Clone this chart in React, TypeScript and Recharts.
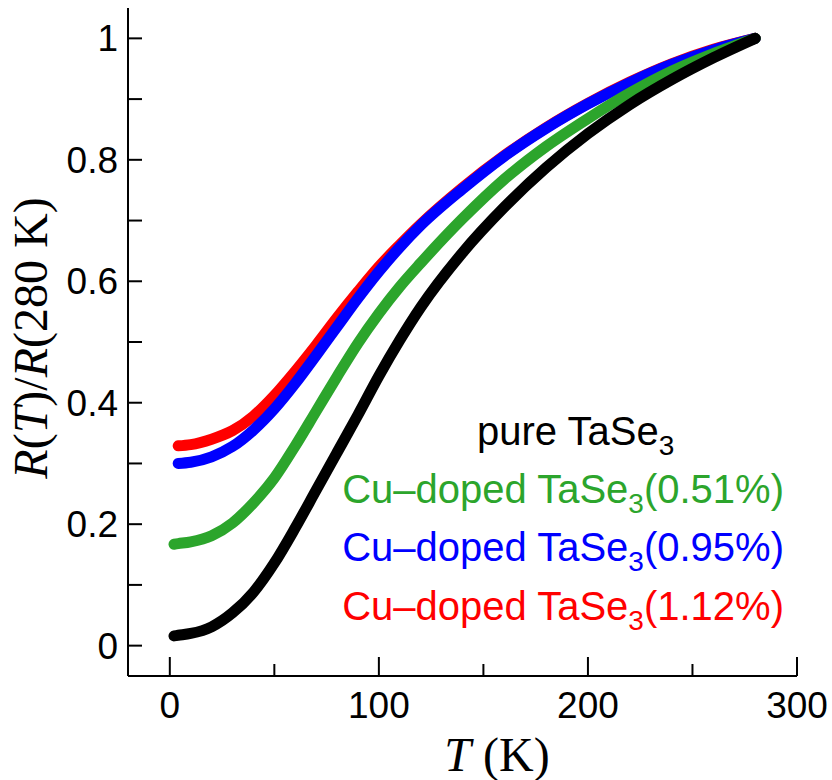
import { LineChart, Line, XAxis, YAxis } from 'recharts'

const temps = [2, 4, 10, 20, 30, 40, 50, 60, 70, 80, 90, 100, 110, 120, 140, 160, 180, 200, 220, 240, 260, 280]
const pure = [0.016, 0.017, 0.02, 0.031, 0.054, 0.088, 0.136, 0.194, 0.256, 0.318, 0.38, 0.444, 0.503, 0.557, 0.647, 0.722, 0.787, 0.843, 0.891, 0.932, 0.968, 1.0]
const cu051 = [0.167, 0.168, 0.171, 0.181, 0.202, 0.235, 0.276, 0.329, 0.386, 0.443, 0.498, 0.547, 0.591, 0.63, 0.703, 0.768, 0.822, 0.868, 0.91, 0.946, 0.975, 1.0]
const cu095 = [null, 0.3, 0.302, 0.311, 0.328, 0.355, 0.39, 0.432, 0.478, 0.525, 0.572, 0.616, 0.656, 0.692, 0.752, 0.806, 0.852, 0.892, 0.927, 0.957, 0.981, 1.0]
const cu112 = [null, 0.329, 0.331, 0.34, 0.354, 0.378, 0.412, 0.452, 0.495, 0.54, 0.583, 0.624, 0.66, 0.694, 0.754, 0.807, 0.853, 0.893, 0.928, 0.958, 0.982, 1.0]

const xTicks = [0, 50, 100, 150, 200, 250, 300]
const yTicks = [0, 0.1, 0.2, 0.3, 0.4, 0.5, 0.6, 0.7, 0.8, 0.9, 1]
const yLabels: Record<string, string> = { '0': '0', '0.2': '0.2', '0.4': '0.4', '0.6': '0.6', '0.8': '0.8', '1': '1' }

const seriesKeys = ['pure', 'cu051', 'cu095', 'cu112']
const seriesColors = ['#000000', '#2ca52c', '#0000ff', '#ff0000']
const seriesPre = ['pure TaSe', 'Cu\u2013doped TaSe', 'Cu\u2013doped TaSe', 'Cu\u2013doped TaSe']
const seriesPost = ['', '(0.51%)', '(0.95%)', '(1.12%)']

const data = temps.map((T, i) => ({
  T,
  pure: pure[i],
  cu051: cu051[i],
  cu095: cu095[i],
  cu112: cu112[i],
}))

const SANS = '"Liberation Sans", Arial, sans-serif'
const SERIF = '"Liberation Serif", "Times New Roman", serif'

function XTick(props: any) {
  const { x, y, payload, side } = props
  const major = payload.value % 100 === 0
  const len = major ? 19 : 12
  const dir = side === 'bottom' ? -1 : 1
  return (
    <g>
      <line x1={x} x2={x} y1={y} y2={y + dir * len} stroke="#000" strokeWidth={2} />
      {side === 'bottom' && major && (
        <text x={x} y={y + 42} textAnchor="middle" fontFamily={SANS} fontSize={37} fill="#000">
          {payload.value}
        </text>
      )}
    </g>
  )
}

function YTick(props: any) {
  const { x, y, payload, side } = props
  const dir = side === 'left' ? 1 : -1
  const lab = yLabels[String(Math.round(payload.value * 10) / 10)]
  return (
    <g>
      <line x1={x} x2={x + dir * 14} y1={y} y2={y} stroke="#000" strokeWidth={2} />
      {side === 'left' && lab && (
        <text x={x - 10} y={y + 13} textAnchor="end" fontFamily={SANS} fontSize={37} fill="#000">
          {lab}
        </text>
      )}
    </g>
  )
}

function Labels() {
  const baselines = [445, 503, 561, 620]
  return (
    <g>
      <text x={47} y={338} transform="rotate(-90 47 338)" textAnchor="middle" fontFamily={SERIF} fontSize={48} fill="#000">
        <tspan fontStyle="italic">R</tspan>(<tspan fontStyle="italic">T</tspan>)/<tspan fontStyle="italic">R</tspan>(280 K)
      </text>
      <text x={497} y={771} textAnchor="middle" fontFamily={SERIF} fontSize={48} fill="#000">
        <tspan fontStyle="italic">T</tspan> (K)
      </text>
      {seriesKeys.map((k, i) => (
        <text
          key={k}
          x={i === 0 ? 477 : 784}
          y={baselines[i]}
          textAnchor={i === 0 ? 'start' : 'end'}
          fontFamily={SANS}
          fontSize={40}
          fill={seriesColors[i]}
        >
          {seriesPre[i]}
          <tspan fontSize={28} dy={10}>3</tspan>
          <tspan dy={-10}>{seriesPost[i]}</tspan>
        </text>
      ))}
    </g>
  )
}

export default function App() {
  return (
    <div style={{ position: 'absolute', left: 0, top: 0, background: '#fff' }}>
      <LineChart width={832} height={780} data={data} margin={{ top: 8, right: 35, bottom: 0, left: 0 }}>
        <XAxis
          dataKey="T"
          type="number"
          domain={[-20, 300]}
          ticks={xTicks}
          interval={0}
          height={104}
          tickSize={0}
          tickMargin={0}
          axisLine={{ stroke: '#000', strokeWidth: 2 }}
          tick={(p: any) => <XTick {...p} side="bottom" />}
          allowDataOverflow
        />
        <XAxis
          xAxisId="top"
          orientation="top"
          dataKey="T"
          type="number"
          domain={[-20, 300]}
          ticks={xTicks}
          interval={0}
          height={0}
          tickSize={0}
          tickMargin={0}
          axisLine={{ stroke: '#000', strokeWidth: 2 }}
          tick={(p: any) => <XTick {...p} side="top" />}
          allowDataOverflow
        />
        <YAxis
          type="number"
          domain={[-0.05, 1.05]}
          ticks={yTicks}
          interval={0}
          width={128}
          tickSize={0}
          tickMargin={0}
          axisLine={{ stroke: '#000', strokeWidth: 2 }}
          tick={(p: any) => <YTick {...p} side="left" />}
          allowDataOverflow
        />
        <YAxis
          yAxisId="right"
          orientation="right"
          type="number"
          domain={[-0.05, 1.05]}
          ticks={yTicks}
          interval={0}
          width={0}
          tickSize={0}
          tickMargin={0}
          axisLine={{ stroke: '#000', strokeWidth: 2 }}
          tick={(p: any) => <YTick {...p} side="right" />}
          allowDataOverflow
        />
        {[3, 2, 1, 0].map((i) => (
          <Line
            key={seriesKeys[i]}
            dataKey={seriesKeys[i]}
            type="monotone"
            stroke={seriesColors[i]}
            strokeWidth={11}
            strokeLinecap="round"
            strokeLinejoin="round"
            dot={false}
            activeDot={false}
            isAnimationActive={false}
          />
        ))}
        <Labels />
      </LineChart>
    </div>
  )
}
